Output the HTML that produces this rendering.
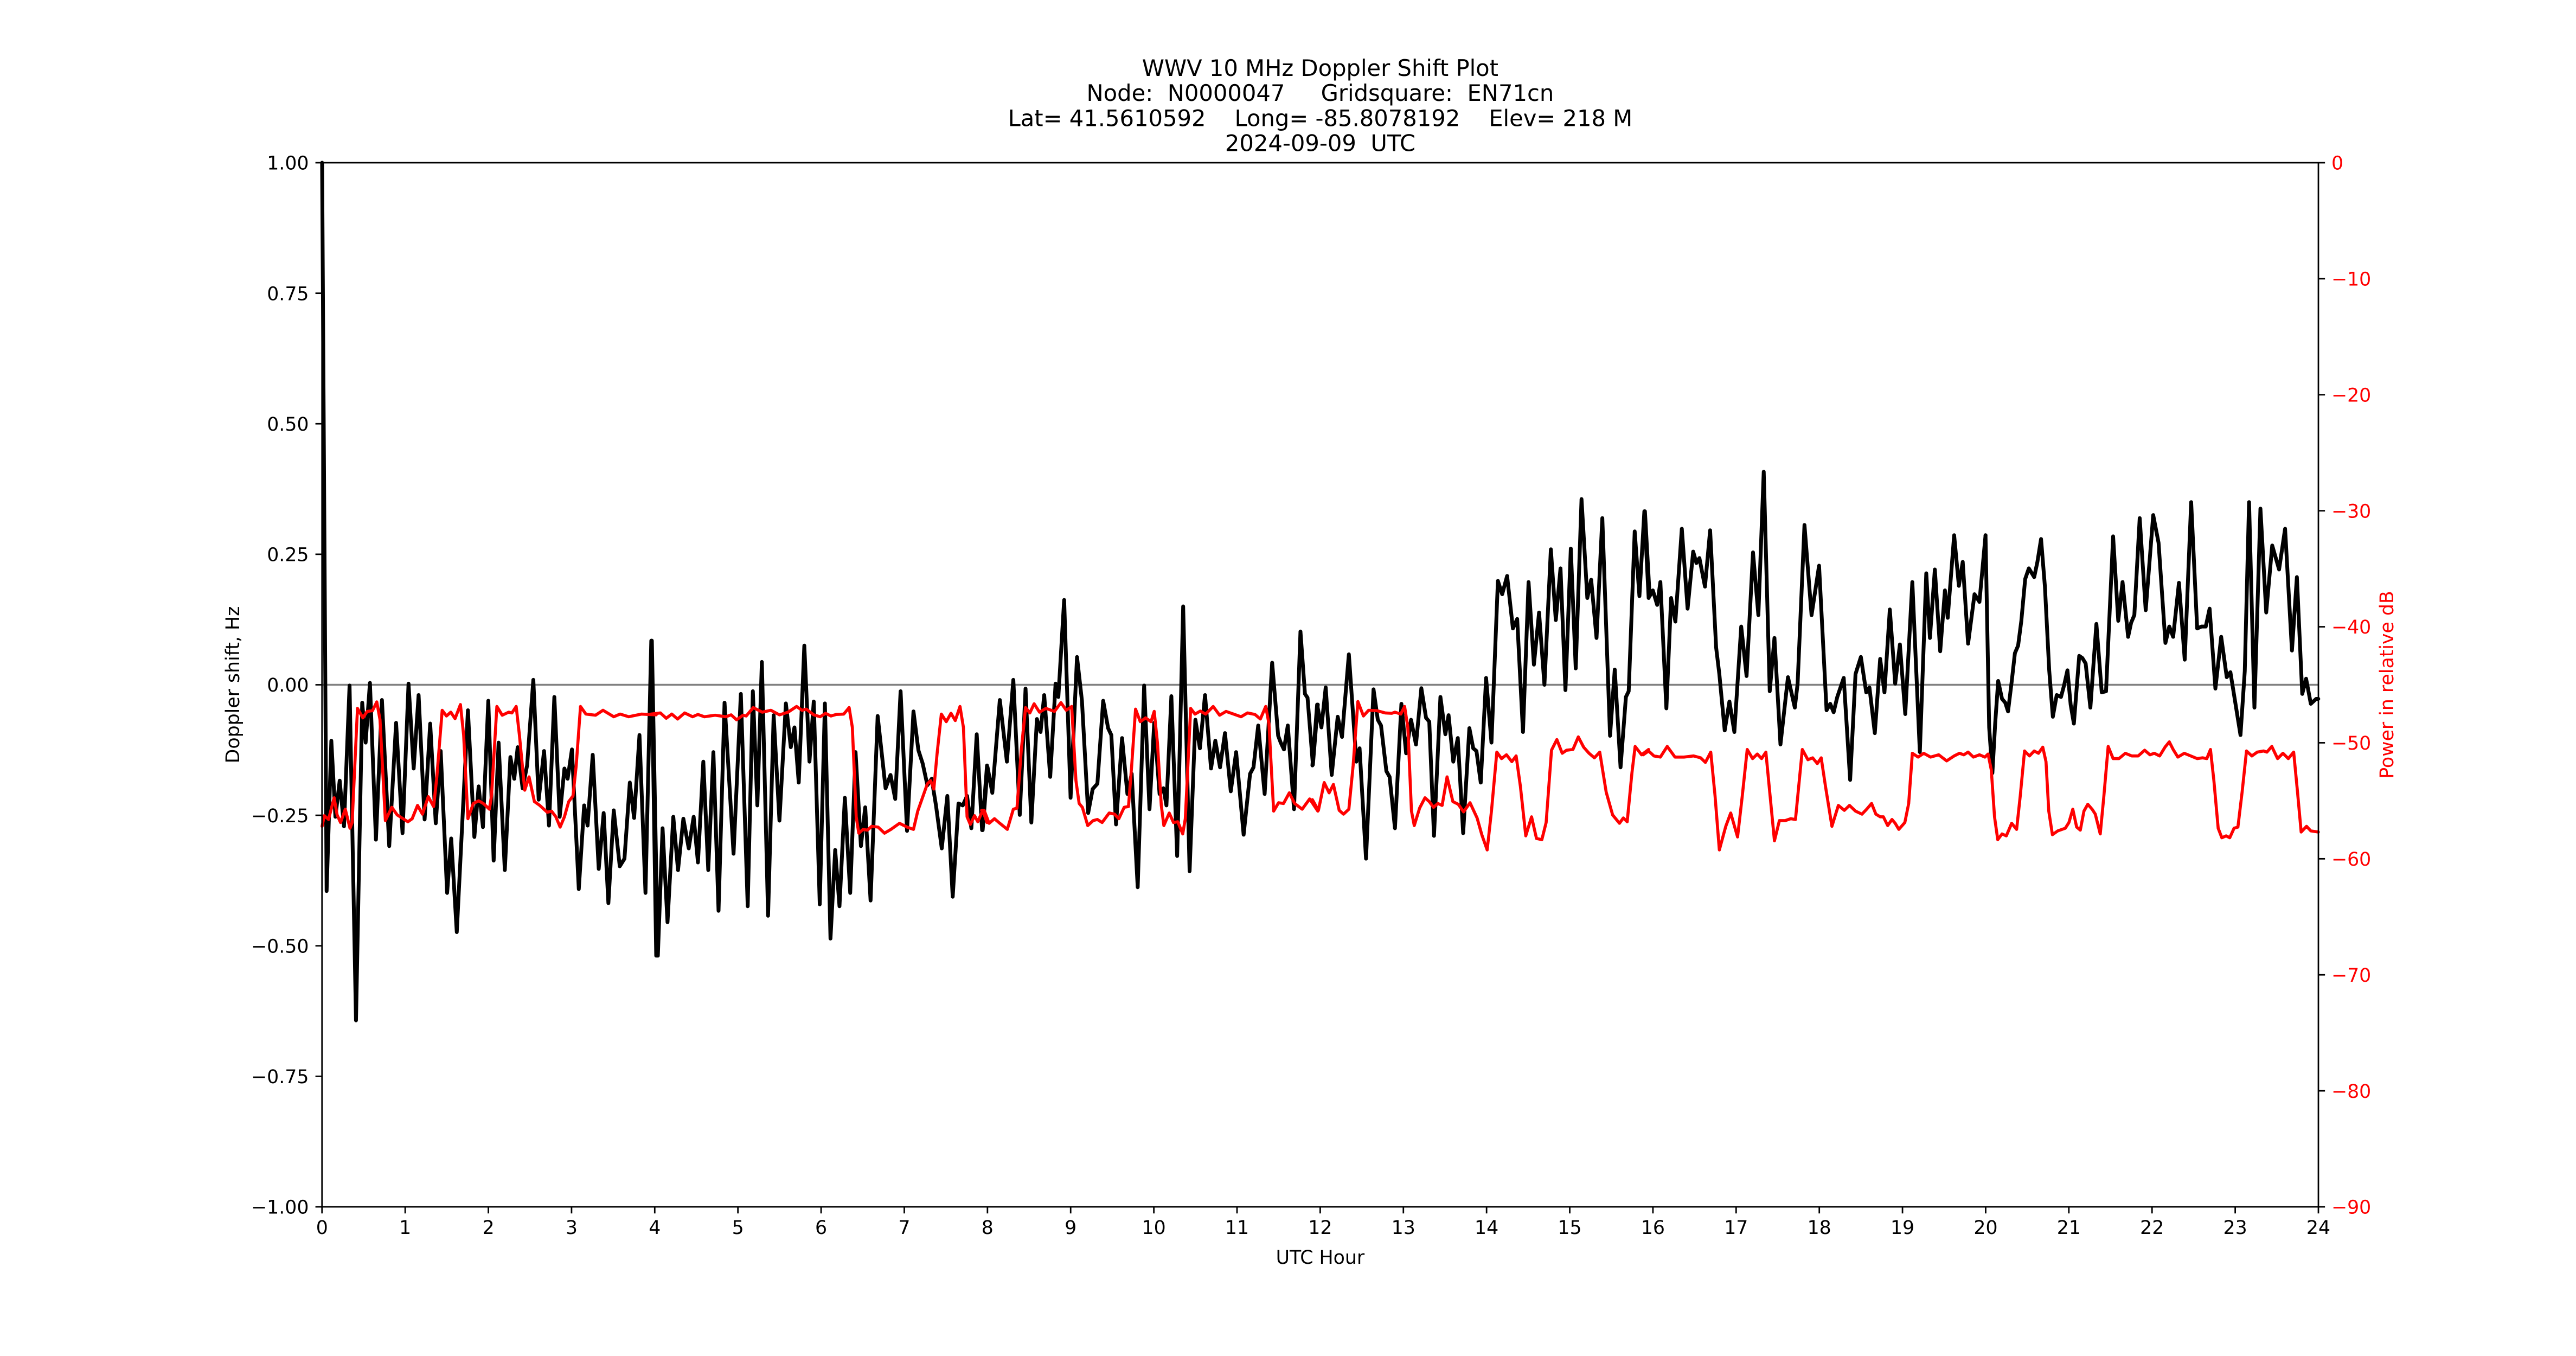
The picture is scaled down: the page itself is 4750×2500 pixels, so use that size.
<!DOCTYPE html>
<html>
<head>
<meta charset="utf-8">
<style>
html,body{margin:0;padding:0;background:#fff;}
body{width:4750px;height:2500px;overflow:hidden;}
svg{display:block;}
text{font-family:"DejaVu Sans","Liberation Sans",sans-serif;white-space:pre;}
.bl{fill:none;stroke:#000;stroke-width:7;stroke-linejoin:round;stroke-linecap:round;}
.rd{fill:none;stroke:#ff0000;stroke-width:5.6;stroke-linejoin:round;stroke-linecap:round;}
.tk{stroke:#000;stroke-width:2.78;}
.tl{font-size:34.72px;fill:#000;}
.tr{font-size:34.72px;fill:#ff0000;}
</style>
</head>
<body>
<svg width="4750" height="2500" viewBox="0 0 4750 2500" xmlns="http://www.w3.org/2000/svg">
<rect x="0" y="0" width="4750" height="2500" fill="#fff"/>

<!-- Title -->
<g text-anchor="middle" fill="#000">
<text x="2434.4" y="140" style="font-size:41.67px">WWV 10 MHz Doppler Shift Plot</text>
<text x="2434.4" y="186.2" style="font-size:41.67px">Node:  N0000047     Gridsquare:  EN71cn</text>
<text x="2434.4" y="232.3" style="font-size:41.67px">Lat= 41.5610592    Long= -85.8078192    Elev= 218 M</text>
<text x="2434.4" y="278.4" style="font-size:41.67px">2024-09-09  UTC</text>
</g>

<!-- zero line -->
<line x1="593.75" y1="1262.5" x2="4275" y2="1262.5" stroke="#808080" stroke-width="3.5"/>

<!-- Black series -->
<g transform="translate(590,850) scale(0.395408,0.701531)">
<polyline class="bl" vector-effect="non-scaling-stroke" points="10,-784 31,1130 53,735 72,935 92,840 112,960 138,590 168,1470 197,635 213,740 233,583 261,995 289,628 323,1012 355,688 385,978 413,585 437,808 460,615 488,942 514,690 540,952 563,762 593,1135 612,992 638,1238 690,655 720,988 740,855 760,962 785,630 810,1050 833,740 862,1075 888,778 906,835 922,752 945,860 966,800 995,575 1020,890 1045,762 1068,958 1093,620 1118,935 1140,808 1155,835 1175,758 1207,1125 1232,905 1248,958 1272,772 1300,1072 1323,925 1345,1162 1370,918 1398,1065 1420,1045 1445,845 1465,938 1490,720 1518,1135 1545,472 1568,1300"/>
</g>
<g transform="translate(1200,850) scale(0.395408,0.701531)">
<polyline class="bl" vector-effect="non-scaling-stroke" points="5,472 33,1300 55,965 78,1212 105,935 127,1075 152,940 177,1018 200,935 220,1055 245,790 268,1075 292,765 316,1182 344,635 386,1032 420,612 452,1170 476,605 497,905 518,528 547,1195 573,668 600,945 630,637 653,752 670,700 690,845 716,485 740,790 760,632 788,1165 812,637 838,1255 860,1022 880,1170 905,885 930,1135 955,765 980,1012 1000,910 1025,1155 1058,670 1095,860 1118,825 1140,888 1165,605 1195,972 1225,658 1248,760 1268,795 1290,852 1310,835 1330,905 1357,1018 1383,880 1408,1145 1435,900 1455,905 1475,880 1495,965 1520,718 1545,970 1568,800"/>
</g>
<g transform="translate(1810,850) scale(0.395408,0.701531)">
<polyline class="bl" vector-effect="non-scaling-stroke" points="5,970 28,805 50,872 85,628 118,790 148,575 178,930 205,598 232,950 258,678 275,712 292,615 320,830 345,585 358,620 385,365 415,885 445,515 468,630 497,925 518,862 540,848 567,630 590,702 605,720 627,955 655,728 680,875 700,822 728,1120 758,590 783,915 805,688 830,875 848,860 862,905 885,618 912,1038 940,382 970,1078 997,680 1018,755 1042,615 1070,808 1090,735 1112,805 1135,715 1162,868 1187,765 1222,982 1252,822 1268,805 1290,695 1320,875 1355,530 1383,722 1395,740 1410,758 1428,695 1457,915 1487,448 1508,612 1520,622 1545,798 1568,640"/>
</g>
<g transform="translate(2420,850) scale(0.395408,0.701531)">
<polyline class="bl" vector-effect="non-scaling-stroke" points="0,800 22,640 42,700 62,595 90,825 118,672 138,725 170,508 205,790 220,755 250,1045 285,600 305,680 320,695 345,815 360,830 385,965 415,638 437,768 460,680 483,745 508,597 530,675 545,685 567,985 597,620 620,718 635,668 657,790 678,728 703,978 732,702 750,755 765,762 785,845 810,570 835,740 865,315 885,350 908,302 935,440 955,415 982,712 1008,318 1033,535 1057,398 1082,588 1112,232 1135,418 1157,282 1180,602 1205,230 1228,545 1255,100 1282,360 1300,312 1325,465 1352,150 1388,722 1410,548 1437,805 1462,620 1475,605 1503,185 1525,355 1548,132 1568,360"/>
</g>
<g transform="translate(3030,850) scale(0.395408,0.701531)">
<polyline class="bl" vector-effect="non-scaling-stroke" points="8,132 30,355 45,340 65,378 80,318 108,650 130,360 150,422 180,178 207,388 233,238 248,268 262,255 288,330 312,182 340,490 355,560 380,708 402,632 425,712 457,435 482,565 512,240 537,405 562,28 590,605 612,465 640,745 675,568 707,648 720,585 752,168 785,405 820,275 855,655 872,638 888,660 905,620 935,570 965,838 990,560 1015,515 1040,608 1055,595 1080,715 1105,520 1125,608 1150,390 1175,585 1197,482 1222,665 1255,318 1290,765 1320,295 1337,465 1360,285 1385,500 1407,340 1420,412 1450,195 1472,328 1490,265 1515,480 1545,350 1568,370"/>
</g>
<polyline class="bl" points="3650,1109.6 3661.2,986.8"/>
<g transform="translate(3660,850) scale(0.395408,0.701531)">
<polyline class="bl" vector-effect="non-scaling-stroke" points="3,195 20,700 35,820 48,690 62,578 80,625 95,635 108,658 125,580 140,505 155,485 170,420 188,310 205,282 230,305 245,265 262,205 280,330 300,550 317,672 335,615 355,620 370,588 385,550 400,640 415,690 440,512 455,518 470,532 492,648 520,428 545,608 565,605 598,198 622,420 642,318 668,462 682,425 697,405 722,150 750,392 785,142 810,215 842,478 860,435 878,462 905,320 932,522 962,108 990,440 1010,435 1030,435 1048,388 1075,598 1102,462 1128,568 1145,555 1165,625 1192,720 1212,552 1232,108 1257,648 1285,125 1312,398 1340,222 1372,285 1400,178 1432,498 1455,305 1480,612 1498,572 1520,638 1545,625 1555,625"/>
</g>

<!-- Red series -->
<g transform="translate(590,850) scale(0.395408,0.701531)">
<polyline class="rd" vector-effect="non-scaling-stroke" points="10,960 20,932 40,942 66,885 80,930 96,950 118,915 140,965 150,950 175,650 200,675 220,658 245,656 265,633 280,680 305,945 335,910 360,930 410,948 430,940 455,905 478,928 505,882 530,908 545,830 570,655 590,670 610,660 630,677 655,640 670,720 690,940 715,900 740,893 762,900 790,915 800,880 825,645 850,668 880,660 895,662 915,645 930,720 955,865 975,830 1000,895 1025,905 1060,923 1080,920 1100,935 1120,962 1140,935 1160,895 1180,880 1195,800 1215,645 1240,665 1285,668 1320,655 1370,672 1400,665 1440,672 1500,665 1568,667"/>
</g>
<g transform="translate(1200,850) scale(0.395408,0.701531)">
<polyline class="rd" vector-effect="non-scaling-stroke" points="0,665 45,662 72,676 98,665 125,678 158,662 195,672 220,666 250,672 300,668 350,672 375,667 400,680 430,668 445,670 478,648 520,660 560,655 600,667 640,660 680,645 705,655 725,652 760,667 790,672 815,663 840,670 865,666 900,665 925,648 940,700 958,935 970,978 990,968 1010,970 1030,960 1060,962 1090,978 1120,968 1160,952 1195,962 1225,968 1245,920 1265,888 1290,848 1305,840 1320,862 1335,770 1355,665 1378,685 1400,663 1420,682 1442,645 1458,700 1475,935 1490,955 1510,932 1525,948 1548,918 1568,950"/>
</g>
<g transform="translate(1810,850) scale(0.395408,0.701531)">
<polyline class="rd" vector-effect="non-scaling-stroke" points="0,918 12,918 35,952 60,940 85,952 120,968 148,915 165,912 185,760 205,648 225,662 245,638 270,660 300,650 340,658 370,635 395,655 420,645 440,840 455,900 470,910 495,958 520,945 540,942 562,950 595,925 620,928 640,940 665,910 685,908 700,800 718,652 740,685 765,675 790,685 805,658 820,740 838,905 850,958 875,925 895,950 915,948 938,980 950,940 975,650 995,665 1020,657 1045,665 1080,645 1110,668 1140,658 1175,665 1210,672 1240,662 1275,666 1300,678 1325,645 1340,690 1362,920 1385,898 1408,900 1435,872 1460,900 1495,915 1530,888 1568,920"/>
</g>
<g transform="translate(2420,850) scale(0.395408,0.701531)">
<polyline class="rd" vector-effect="non-scaling-stroke" points="0,890 28,918 55,845 78,872 98,850 125,918 145,928 170,915 190,800 212,632 238,670 262,655 300,656 340,662 370,663 385,660 412,665 430,645 445,700 462,920 475,958 500,912 525,885 545,895 565,910 585,900 605,905 628,830 655,895 680,902 705,922 735,898 768,938 790,982 815,1022 835,920 860,765 882,782 905,772 930,790 950,775 970,855 995,985 1022,935 1045,992 1070,995 1090,950 1115,760 1140,732 1165,768 1185,760 1215,758 1240,725 1265,752 1290,768 1315,780 1340,765 1370,870 1400,930 1432,952 1450,938 1468,948 1490,820 1505,750 1535,772 1568,758"/>
</g>
<g transform="translate(3030,850) scale(0.395408,0.701531)">
<polyline class="rd" vector-effect="non-scaling-stroke" points="0,772 25,762 50,775 80,778 112,750 148,778 190,778 235,775 268,780 290,792 315,765 335,880 355,1022 385,960 408,925 440,988 462,880 485,758 510,782 532,770 552,782 572,765 590,870 612,998 635,945 662,945 688,940 710,942 742,758 768,785 790,780 812,795 830,780 850,855 880,960 910,905 938,918 962,905 990,920 1020,928 1042,915 1065,900 1085,928 1105,935 1120,935 1140,958 1160,942 1175,952 1192,968 1220,950 1238,900 1255,768 1282,778 1308,768 1340,778 1378,772 1415,788 1450,775 1475,768 1495,772 1515,765 1540,778 1568,772"/>
</g>
<polyline class="rd" points="3650,1391.6 3660,1395.8"/>
<g transform="translate(3660,850) scale(0.395408,0.701531)">
<polyline class="rd" vector-effect="non-scaling-stroke" points="0,778 15,770 30,812 45,935 60,995 80,980 100,985 125,952 148,968 165,880 185,762 208,775 230,762 250,768 270,752 285,790 298,920 315,982 340,972 375,965 392,950 410,915 428,962 445,970 462,920 480,902 500,915 515,928 538,980 555,880 575,750 598,782 625,782 655,768 685,775 715,775 745,760 770,772 790,768 815,775 840,752 860,738 878,758 900,778 930,768 960,775 990,782 1015,780 1035,782 1052,758 1068,840 1088,965 1105,990 1125,985 1142,990 1162,965 1180,962 1200,868 1220,762 1245,775 1270,765 1300,762 1315,765 1338,750 1365,782 1390,768 1415,782 1440,765 1458,870 1475,975 1500,960 1520,972 1555,975"/>
</g>

<!-- Spines -->
<rect x="593.75" y="300" width="3681.25" height="1925" fill="none" stroke="#000" stroke-width="2.78"/>

<!-- Left ticks -->
<g class="tk">
<line x1="581.6" y1="300" x2="593.75" y2="300"/>
<line x1="581.6" y1="540.63" x2="593.75" y2="540.63"/>
<line x1="581.6" y1="781.25" x2="593.75" y2="781.25"/>
<line x1="581.6" y1="1021.88" x2="593.75" y2="1021.88"/>
<line x1="581.6" y1="1262.5" x2="593.75" y2="1262.5"/>
<line x1="581.6" y1="1503.13" x2="593.75" y2="1503.13"/>
<line x1="581.6" y1="1743.75" x2="593.75" y2="1743.75"/>
<line x1="581.6" y1="1984.38" x2="593.75" y2="1984.38"/>
<line x1="581.6" y1="2225" x2="593.75" y2="2225"/>
</g>
<g class="tl" text-anchor="end">
<text x="569.5" y="312.7">1.00</text>
<text x="569.5" y="553.3">0.75</text>
<text x="569.5" y="793.9">0.50</text>
<text x="569.5" y="1034.6">0.25</text>
<text x="569.5" y="1275.2">0.00</text>
<text x="569.5" y="1515.8">−0.25</text>
<text x="569.5" y="1756.4">−0.50</text>
<text x="569.5" y="1997.1">−0.75</text>
<text x="569.5" y="2237.7">−1.00</text>
</g>

<!-- Right ticks -->
<g class="tk">
<line x1="4275" y1="300" x2="4287.15" y2="300"/>
<line x1="4275" y1="513.89" x2="4287.15" y2="513.89"/>
<line x1="4275" y1="727.78" x2="4287.15" y2="727.78"/>
<line x1="4275" y1="941.67" x2="4287.15" y2="941.67"/>
<line x1="4275" y1="1155.56" x2="4287.15" y2="1155.56"/>
<line x1="4275" y1="1369.44" x2="4287.15" y2="1369.44"/>
<line x1="4275" y1="1583.33" x2="4287.15" y2="1583.33"/>
<line x1="4275" y1="1797.22" x2="4287.15" y2="1797.22"/>
<line x1="4275" y1="2011.11" x2="4287.15" y2="2011.11"/>
<line x1="4275" y1="2225" x2="4287.15" y2="2225"/>
</g>
<g class="tr" text-anchor="start">
<text x="4299" y="312.7">0</text>
<text x="4299" y="526.6">−10</text>
<text x="4299" y="740.4">−20</text>
<text x="4299" y="954.3">−30</text>
<text x="4299" y="1168.2">−40</text>
<text x="4299" y="1382.1">−50</text>
<text x="4299" y="1596">−60</text>
<text x="4299" y="1809.9">−70</text>
<text x="4299" y="2023.8">−80</text>
<text x="4299" y="2237.7">−90</text>
</g>

<!-- Bottom ticks -->
<g class="tk">
<line x1="593.75" y1="2225" x2="593.75" y2="2237.15"/>
<line x1="747.14" y1="2225" x2="747.14" y2="2237.15"/>
<line x1="900.52" y1="2225" x2="900.52" y2="2237.15"/>
<line x1="1053.91" y1="2225" x2="1053.91" y2="2237.15"/>
<line x1="1207.29" y1="2225" x2="1207.29" y2="2237.15"/>
<line x1="1360.68" y1="2225" x2="1360.68" y2="2237.15"/>
<line x1="1514.06" y1="2225" x2="1514.06" y2="2237.15"/>
<line x1="1667.45" y1="2225" x2="1667.45" y2="2237.15"/>
<line x1="1820.83" y1="2225" x2="1820.83" y2="2237.15"/>
<line x1="1974.22" y1="2225" x2="1974.22" y2="2237.15"/>
<line x1="2127.6" y1="2225" x2="2127.6" y2="2237.15"/>
<line x1="2280.99" y1="2225" x2="2280.99" y2="2237.15"/>
<line x1="2434.38" y1="2225" x2="2434.38" y2="2237.15"/>
<line x1="2587.76" y1="2225" x2="2587.76" y2="2237.15"/>
<line x1="2741.15" y1="2225" x2="2741.15" y2="2237.15"/>
<line x1="2894.53" y1="2225" x2="2894.53" y2="2237.15"/>
<line x1="3047.92" y1="2225" x2="3047.92" y2="2237.15"/>
<line x1="3201.3" y1="2225" x2="3201.3" y2="2237.15"/>
<line x1="3354.69" y1="2225" x2="3354.69" y2="2237.15"/>
<line x1="3508.07" y1="2225" x2="3508.07" y2="2237.15"/>
<line x1="3661.46" y1="2225" x2="3661.46" y2="2237.15"/>
<line x1="3814.84" y1="2225" x2="3814.84" y2="2237.15"/>
<line x1="3968.23" y1="2225" x2="3968.23" y2="2237.15"/>
<line x1="4121.61" y1="2225" x2="4121.61" y2="2237.15"/>
<line x1="4275" y1="2225" x2="4275" y2="2237.15"/>
</g>
<g class="tl" text-anchor="middle">
<text x="593.75" y="2275">0</text>
<text x="747.14" y="2275">1</text>
<text x="900.52" y="2275">2</text>
<text x="1053.91" y="2275">3</text>
<text x="1207.29" y="2275">4</text>
<text x="1360.68" y="2275">5</text>
<text x="1514.06" y="2275">6</text>
<text x="1667.45" y="2275">7</text>
<text x="1820.83" y="2275">8</text>
<text x="1974.22" y="2275">9</text>
<text x="2127.6" y="2275">10</text>
<text x="2280.99" y="2275">11</text>
<text x="2434.38" y="2275">12</text>
<text x="2587.76" y="2275">13</text>
<text x="2741.15" y="2275">14</text>
<text x="2894.53" y="2275">15</text>
<text x="3047.92" y="2275">16</text>
<text x="3201.3" y="2275">17</text>
<text x="3354.69" y="2275">18</text>
<text x="3508.07" y="2275">19</text>
<text x="3661.46" y="2275">20</text>
<text x="3814.84" y="2275">21</text>
<text x="3968.23" y="2275">22</text>
<text x="4121.61" y="2275">23</text>
<text x="4275" y="2275">24</text>
</g>

<!-- Axis labels -->
<text class="tl" x="2434.38" y="2330" text-anchor="middle">UTC Hour</text>
<text class="tl" text-anchor="middle" transform="translate(441,1262.5) rotate(-90)">Doppler shift, Hz</text>
<text class="tr" text-anchor="middle" transform="translate(4413,1262.5) rotate(-90)">Power in relative dB</text>
</svg>
</body>
</html>
